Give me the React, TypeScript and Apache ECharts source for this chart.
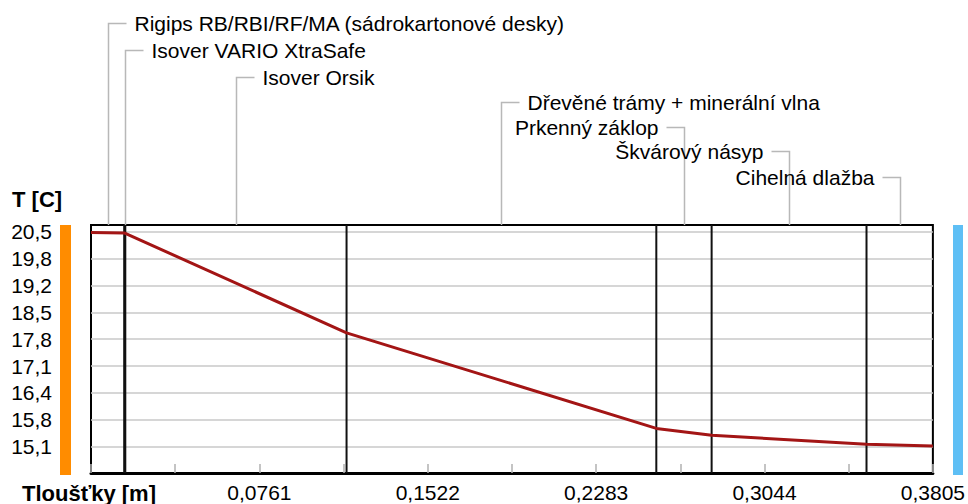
import React, { useEffect, useRef } from 'react';
import * as echarts from 'echarts';

// Layer names (interior -> exterior) and thicknesses [m]
const layerNames = [
  'Rigips RB/RBI/RF/MA (sádrokartonové desky)',
  'Isover VARIO XtraSafe',
  'Isover Orsik',
  'Dřevěné trámy + minerální vlna',
  'Prkenný záklop',
  'Škvárový násyp',
  'Cihelná dlažba',
];
const layerThickness = [0.015, 0.0005, 0.1, 0.14, 0.025, 0.07, 0.03];
// 1 = text to the right of connector, -1 = text to the left
const labelSide = [1, 1, 1, 1, -1, -1, -1];

// Temperature at each layer boundary [°C]
const boundaryTemps = [20.48, 20.47, 20.46, 17.96, 15.56, 15.39, 15.16, 15.12];

// Y axis ticks
const yTickValues = [15.1, 15.775, 16.45, 17.125, 17.8, 18.475, 19.15, 19.825, 20.5];
const yTickLabels = ['15,1', '15,8', '16,4', '17,1', '17,8', '18,5', '19,2', '19,8', '20,5'];
const yMin = 14.44;
const yMax = 20.67;

// X axis
const xMax = 0.3805;
const xInterval = 0.0761;

// layout: pixel rows of the layer captions
const labelRowY = [23, 50, 77, 102, 127, 151, 177];

export default function App() {
  const ref = useRef<HTMLDivElement>(null);
  useEffect(() => {
    if (!ref.current) return;
    const chart = echarts.init(ref.current, undefined, { renderer: 'svg' });

    const boundaries: number[] = [0];
    layerThickness.forEach((t, i) => boundaries.push(+(boundaries[i] + t).toFixed(5)));
    const lineData = boundaries.map((x, i) => [x, boundaryTemps[i]]);
    const mids = layerThickness.map((t, i) => [(boundaries[i] + boundaries[i + 1]) / 2, i, labelSide[i]]);
    const inner = boundaries.slice(1, boundaries.length - 1).map((x) => [x, 0]);

    const font = '"Liberation Sans", Arial, sans-serif';

    chart.setOption({
      animation: false,
      backgroundColor: '#fff',
      grid: {
        left: 91,
        right: 34,
        top: 225,
        bottom: 31,
        show: true,
        borderColor: '#000',
        borderWidth: 2,
        containLabel: false,
      },
      xAxis: {
        type: 'value',
        min: 0,
        max: xMax,
        interval: xInterval,
        axisLine: { show: true, lineStyle: { color: '#000', width: 3 } },
        axisTick: { show: true, inside: true, length: 9, lineStyle: { color: '#b0b0b0', width: 1.5 } },
        minorTick: { show: true, splitNumber: 2, length: 9, lineStyle: { color: '#b0b0b0', width: 1.5 } },
        splitLine: { show: false },
        axisLabel: {
          color: '#000',
          fontSize: 21,
          fontFamily: font,
          margin: 9,
          showMinLabel: true,
          showMaxLabel: true,
          formatter: (v: number) => (v === 0 ? '' : v.toFixed(4).replace('.', ',')),
        },
      },
      yAxis: {
        type: 'value',
        min: yMin,
        max: yMax,
        axisLine: { show: false },
        axisTick: { show: false, customValues: yTickValues },
        splitLine: { show: true, lineStyle: { color: '#c8c8c8', width: 1.5 } },
        axisLabel: {
          customValues: yTickValues,
          color: '#000',
          fontSize: 21,
          fontFamily: font,
          margin: 39,
          formatter: (v: number) => {
            let best = 0;
            yTickValues.forEach((t, i) => {
              if (Math.abs(t - v) < Math.abs(yTickValues[best] - v)) best = i;
            });
            return yTickLabels[best];
          },
        },
      },
      graphic: [
        { type: 'rect', left: 60, top: 225, shape: { width: 11, height: 250 }, style: { fill: '#FF8C00' } },
        { type: 'rect', left: 953, top: 225, shape: { width: 10, height: 250 }, style: { fill: '#5EBFF5' } },
        {
          type: 'text', left: 12, top: 188,
          style: { text: 'T [C]', font: `bold 22px ${font}`, fill: '#000' },
        },
        {
          type: 'text', left: 22, top: 482,
          style: { text: 'Tloušťky [m]', font: `bold 22px ${font}`, fill: '#000' },
        },
      ],
      series: [
        {
          type: 'custom',
          data: inner,
          silent: true,
          z: 1,
          renderItem: (params: any, api: any) => {
            const p1 = api.coord([api.value(0), yMin]);
            const p2 = api.coord([api.value(0), yMax]);
            return {
              type: 'line',
              shape: { x1: p1[0], y1: p1[1], x2: p2[0], y2: p2[1] },
              style: { stroke: '#111', lineWidth: 2 },
            };
          },
        },
        {
          type: 'line',
          data: lineData,
          symbol: 'none',
          z: 3,
          lineStyle: { color: '#A31515', width: 3 },
        },
        {
          type: 'custom',
          data: mids,
          clip: false,
          silent: true,
          z: 2,
          renderItem: (params: any, api: any) => {
            const mid = api.value(0);
            const idx = api.value(1);
            const side = api.value(2);
            const x = Math.round(api.coord([mid, yMin])[0]) + 0.5;
            const top = params.coordSys.y;
            const yy = labelRowY[idx] + 0.5;
            return {
              type: 'group',
              children: [
                {
                  type: 'polyline',
                  shape: { points: [[x, top], [x, yy], [x + side * 18, yy]] },
                  style: { stroke: '#b8b8b8', lineWidth: 1.5, fill: null },
                },
                {
                  type: 'text',
                  x: x + side * 26,
                  y: yy,
                  style: {
                    text: layerNames[idx],
                    font: `21px ${font}`,
                    fill: '#000',
                    align: side > 0 ? 'left' : 'right',
                    verticalAlign: 'middle',
                  },
                },
              ],
            };
          },
        },
      ],
    });
    return () => chart.dispose();
  }, []);
  return (
    <div
      ref={ref}
      style={{ position: 'fixed', left: 0, top: 0, width: 968, height: 504, background: '#fff' }}
    />
  );
}
